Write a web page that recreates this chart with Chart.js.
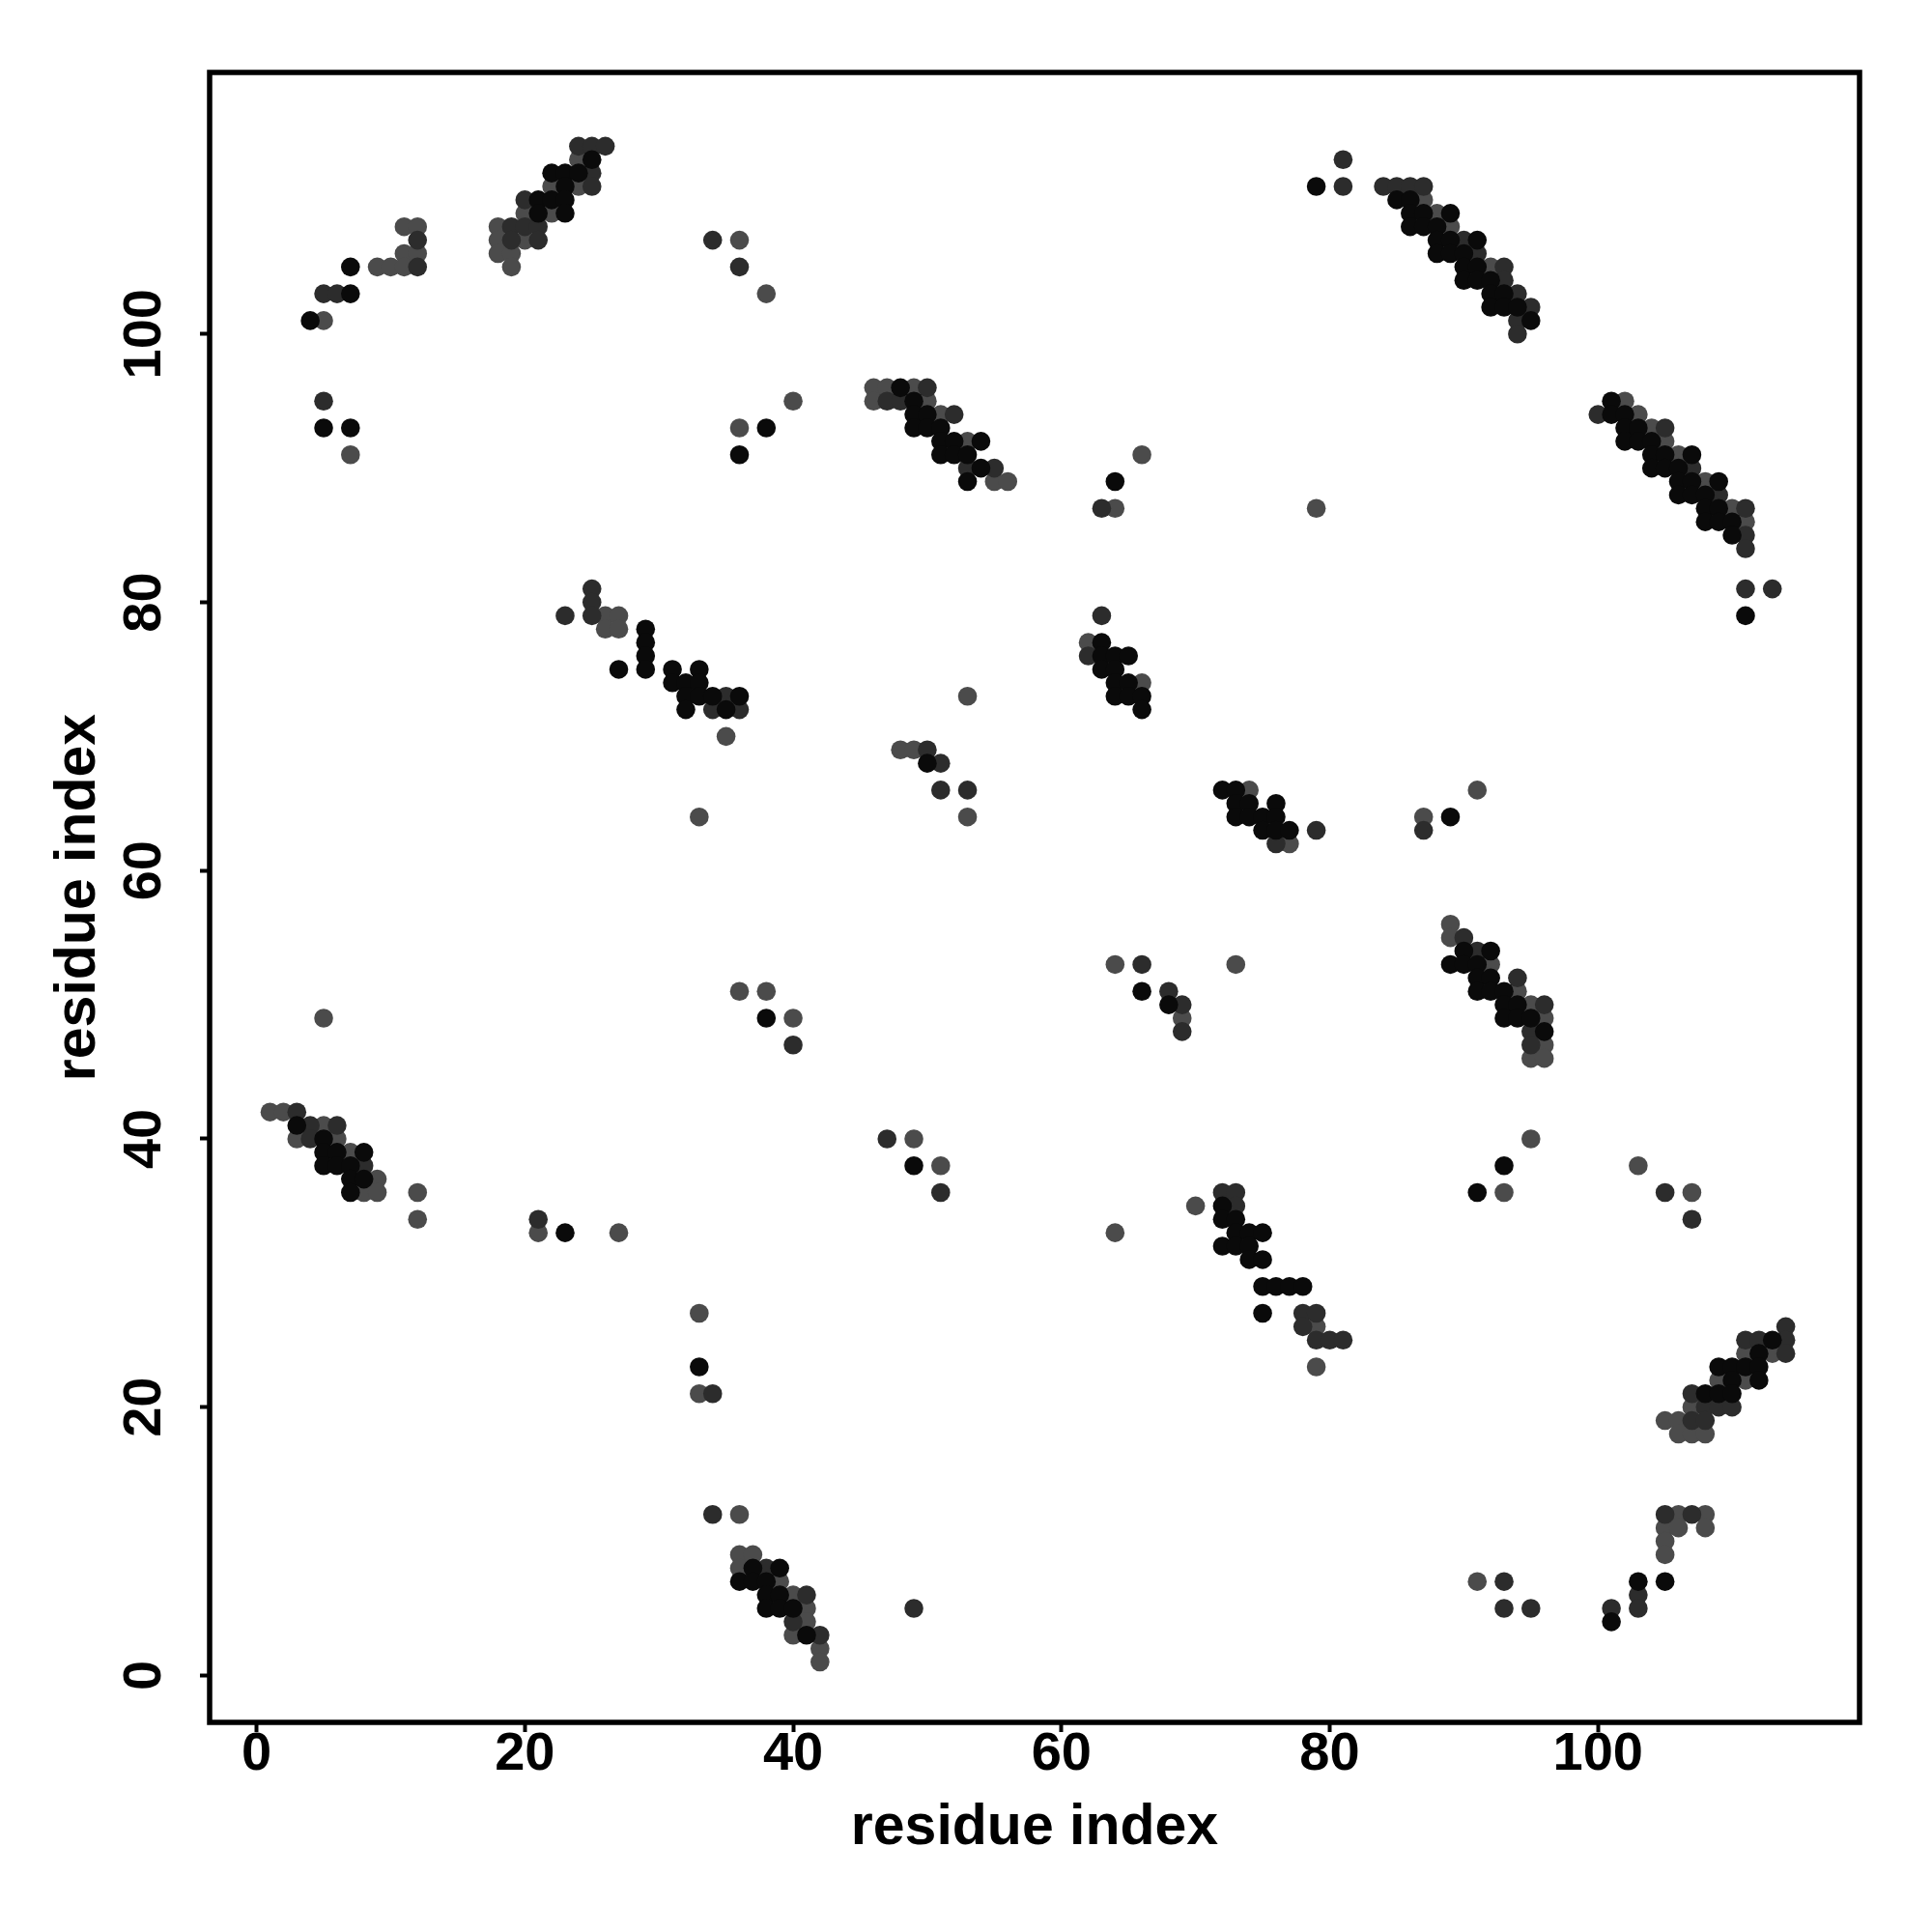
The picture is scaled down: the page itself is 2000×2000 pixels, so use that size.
<!DOCTYPE html>
<html>
<head>
<meta charset="UTF-8">
<title>residue index contact map</title>
<script src="https://cdn.jsdelivr.net/npm/chart.js"></script>
<style>
  html, body { margin: 0; padding: 0; background: #fff; }
  #wrap { width: 2000px; height: 2000px; }
</style>
</head>
<body>
<div id="wrap"><canvas id="chart" width="2000" height="2000"></canvas></div>
<script>
// axis setup
const tickValues = [0, 20, 40, 60, 80, 100];
const axisMin = -3.5;
const axisMax = 119.5;
const axisTitle = "residue index";

// contact pairs [i, j], grouped by shade
const blackPoints = [
  [22,112],[23,112],[24,112],[23,111],[21,110],[22,110],[23,110],[21,109],[23,109],[25,113],
  [7,105],[7,103],[4,101],[5,93],[7,93],
  [29,78],[29,77],[29,76],[29,75],[27,75],[31,75],[33,75],[31,74],[32,74],[33,74],[32,73],[33,73],[34,73],[36,73],[32,72],[35,72],
  [3,41],[5,40],[5,39],[6,39],[8,39],[5,38],[6,38],[7,38],[7,37],[8,37],[7,36],
  [23,33],[33,23],
  [37,8],[39,8],[36,7],[37,7],[38,7],[38,6],[39,6],[38,5],[39,5],[40,5],[41,3],
  [38,93],[36,91],[48,96],[49,95],[49,94],[50,94],[49,93],[50,93],[51,93],[51,92],[52,92],[54,92],[51,91],[52,91],[53,91],[54,90],[53,89],
  [50,68],[38,49],[49,38],
  [79,111],[85,110],[86,110],[86,109],[87,109],[89,109],[86,108],[87,108],[88,108],[88,107],[89,107],[88,106],[89,106],[90,106],[90,105],[90,104],[64,89],
  [91,107],[91,105],[91,104],[92,104],[92,103],[93,103],[92,102],[93,102],[94,102],[95,101],
  [101,95],[101,94],[102,94],[102,93],[103,93],[102,92],[103,92],[104,92],[104,91],[105,91],[107,91],[104,90],[105,90],[106,90],
  [106,89],[107,89],[109,89],[106,88],[107,88],[108,88],[108,87],[109,87],[108,86],[109,86],[110,86],[110,85],[111,79],
  [63,77],[63,76],[64,76],[65,76],[63,75],[64,75],[64,74],[65,74],[64,73],[65,73],[66,73],[66,72],
  [72,66],[73,66],[73,65],[74,65],[76,65],[73,64],[74,64],[75,64],[76,64],[75,63],[76,63],[77,63],[89,64],[66,51],[68,50],
  [90,54],[92,54],[89,53],[90,53],[91,53],[91,52],[92,52],[91,51],[92,51],[93,51],[93,50],[94,50],[93,49],[94,49],[95,49],[96,48],[93,38],
  [72,35],[72,34],[73,34],[73,33],[74,33],[75,33],[72,32],[73,32],[74,32],[74,31],[75,31],[75,29],[76,29],[77,29],[78,29],[75,27],
  [91,36],[113,25],[112,24],[109,23],[110,23],[111,23],[112,23],[110,22],[112,22],[108,21],[109,21],[110,21],[103,7],[105,7],[101,4]
];

const darkPoints = [
  [24,114],[25,114],[26,114],[25,112],[25,111],[20,110],[19,108],[20,108],[21,108],[19,107],[21,107],
  [12,107],[12,105],[5,103],[6,103],[5,95],
  [25,81],[25,80],[23,79],[25,79],[35,73],[34,72],[36,72],
  [3,42],[4,41],[6,41],[4,40],[8,38],
  [21,34],[34,21],[34,12],[38,8],[41,6],[40,4],[42,3],[49,5],
  [34,107],[36,105],[50,96],[47,95],[48,95],[52,94],[53,90],[55,90],
  [50,69],[51,68],[51,66],[53,66],[40,47],[47,40],[51,36],
  [81,113],[81,111],[84,111],[85,111],[86,111],[87,111],[90,107],[63,87],
  [91,106],[93,105],[93,104],[94,103],[95,102],[94,101],[94,100],
  [100,94],[105,93],[107,90],[109,88],[111,87],[111,85],[111,84],[111,81],[113,81],
  [63,79],[62,76],[79,63],[76,62],[87,63],[66,53],[68,51],[69,50],[69,48],
  [90,55],[91,54],[94,52],[96,50],[95,48],[95,47],
  [72,36],[73,36],[73,35],[78,27],[79,27],[78,26],[79,25],[80,25],[81,25],
  [105,36],[107,34],[114,26],[111,25],[112,25],[114,25],[114,24],[107,21],[108,20],[109,20],[110,20],[107,19],[108,19],
  [105,12],[107,12],[93,7],[103,6],[93,5],[95,5],[101,5],[103,5]
];

const greyPoints = [
  [24,113],[22,111],[24,111],[20,109],[22,109],[18,108],[18,107],[20,107],[18,106],[19,106],[19,105],
  [11,108],[12,108],[11,106],[12,106],[9,105],[10,105],[11,105],[5,101],[7,91],
  [26,79],[27,79],[26,78],[27,78],[35,70],
  [1,42],[2,42],[5,41],[3,40],[6,40],[7,39],[9,37],[8,36],[9,36],[12,36],[12,34],[5,49],
  [21,33],[27,33],[33,27],[33,21],[36,12],[36,9],[37,9],[36,8],[39,7],[40,6],[41,5],[41,4],[40,3],[42,2],[42,1],
  [36,107],[38,103],[40,95],[36,93],[46,96],[47,96],[49,96],[46,95],[50,95],[51,94],[53,92],[55,89],[56,89],
  [53,73],[48,69],[49,69],[33,64],[53,64],[36,51],[38,51],[40,49],[49,40],[51,38],
  [87,110],[88,109],[89,108],[66,91],[64,87],[79,87],
  [92,105],[102,95],[103,94],[104,93],[105,92],[106,91],[108,89],[110,87],[111,86],
  [62,77],[66,74],[74,66],[77,62],[87,64],[91,66],[64,53],[73,53],[69,49],
  [89,56],[89,55],[92,53],[94,51],[95,50],[96,49],[96,47],[95,46],[96,46],[95,40],[103,38],
  [70,35],[64,33],[79,26],[79,23],
  [93,36],[107,36],[111,24],[113,24],[109,22],[111,22],[107,20],[105,19],[106,19],[106,18],[107,18],[108,18],
  [106,12],[108,12],[105,11],[106,11],[108,11],[105,10],[105,9],[91,7]
];

const toXY = pts => pts.map(p => ({ x: p[0], y: p[1] }));

const fontFamily = "'Liberation Sans', Arial, Helvetica, sans-serif";

// frame around the plotting region
const boxPlugin = {
  id: 'box',
  afterDraw(chart) {
    const { ctx, chartArea: a } = chart;
    ctx.save();
    ctx.strokeStyle = '#000';
    ctx.lineWidth = 5.5;
    ctx.strokeRect(a.left, a.top, a.right - a.left, a.bottom - a.top);
    ctx.restore();
  }
};

const fixTicks = scale => { scale.ticks = tickValues.map(v => ({ value: v })); };

new Chart(document.getElementById('chart').getContext('2d'), {
  type: 'scatter',
  data: {
    datasets: [
      { label: 'black', data: toXY(blackPoints), backgroundColor: '#0a0a0a' },
      { label: 'dark', data: toXY(darkPoints), backgroundColor: '#2c2c2c' },
      { label: 'grey', data: toXY(greyPoints), backgroundColor: '#4b4b4b' }
    ]
  },
  options: {
    responsive: false,
    animation: false,
    devicePixelRatio: 1,
    layout: { padding: { top: 75, right: 75, left: 0, bottom: 0 } },
    elements: { point: { radius: 9.8, hoverRadius: 9.8, borderWidth: 0 } },
    plugins: { legend: { display: false }, tooltip: { enabled: false } },
    scales: {
      x: {
        type: 'linear',
        min: axisMin,
        max: axisMax,
        afterBuildTicks: fixTicks,
        afterFit: s => { s.height = 217; },
        border: { display: false },
        grid: { drawOnChartArea: false, drawTicks: true, tickLength: 10, tickWidth: 4, tickColor: '#000' },
        ticks: {
          color: '#000', padding: 1, maxRotation: 0,
          font: { family: fontFamily, size: 56, weight: 'bold', lineHeight: 0.8 }
        },
        title: {
          display: true, text: axisTitle, color: '#000',
          font: { family: fontFamily, size: 59, weight: 'bold', lineHeight: 1.2 },
          padding: { top: 0, bottom: 72 }
        }
      },
      y: {
        type: 'linear',
        min: axisMin,
        max: axisMax,
        afterBuildTicks: fixTicks,
        afterFit: s => { s.width = 217; },
        border: { display: false },
        grid: { drawOnChartArea: false, drawTicks: true, tickLength: 10, tickWidth: 4, tickColor: '#000' },
        ticks: {
          color: '#000', padding: 10, minRotation: 90, maxRotation: 90, crossAlign: 'center',
          font: { family: fontFamily, size: 56, weight: 'bold' }
        },
        title: {
          display: true, text: axisTitle, color: '#000',
          font: { family: fontFamily, size: 59, weight: 'bold', lineHeight: 1.2 },
          padding: { top: 46, bottom: 0 }
        }
      }
    }
  },
  plugins: [boxPlugin]
});
</script>
</body>
</html>
